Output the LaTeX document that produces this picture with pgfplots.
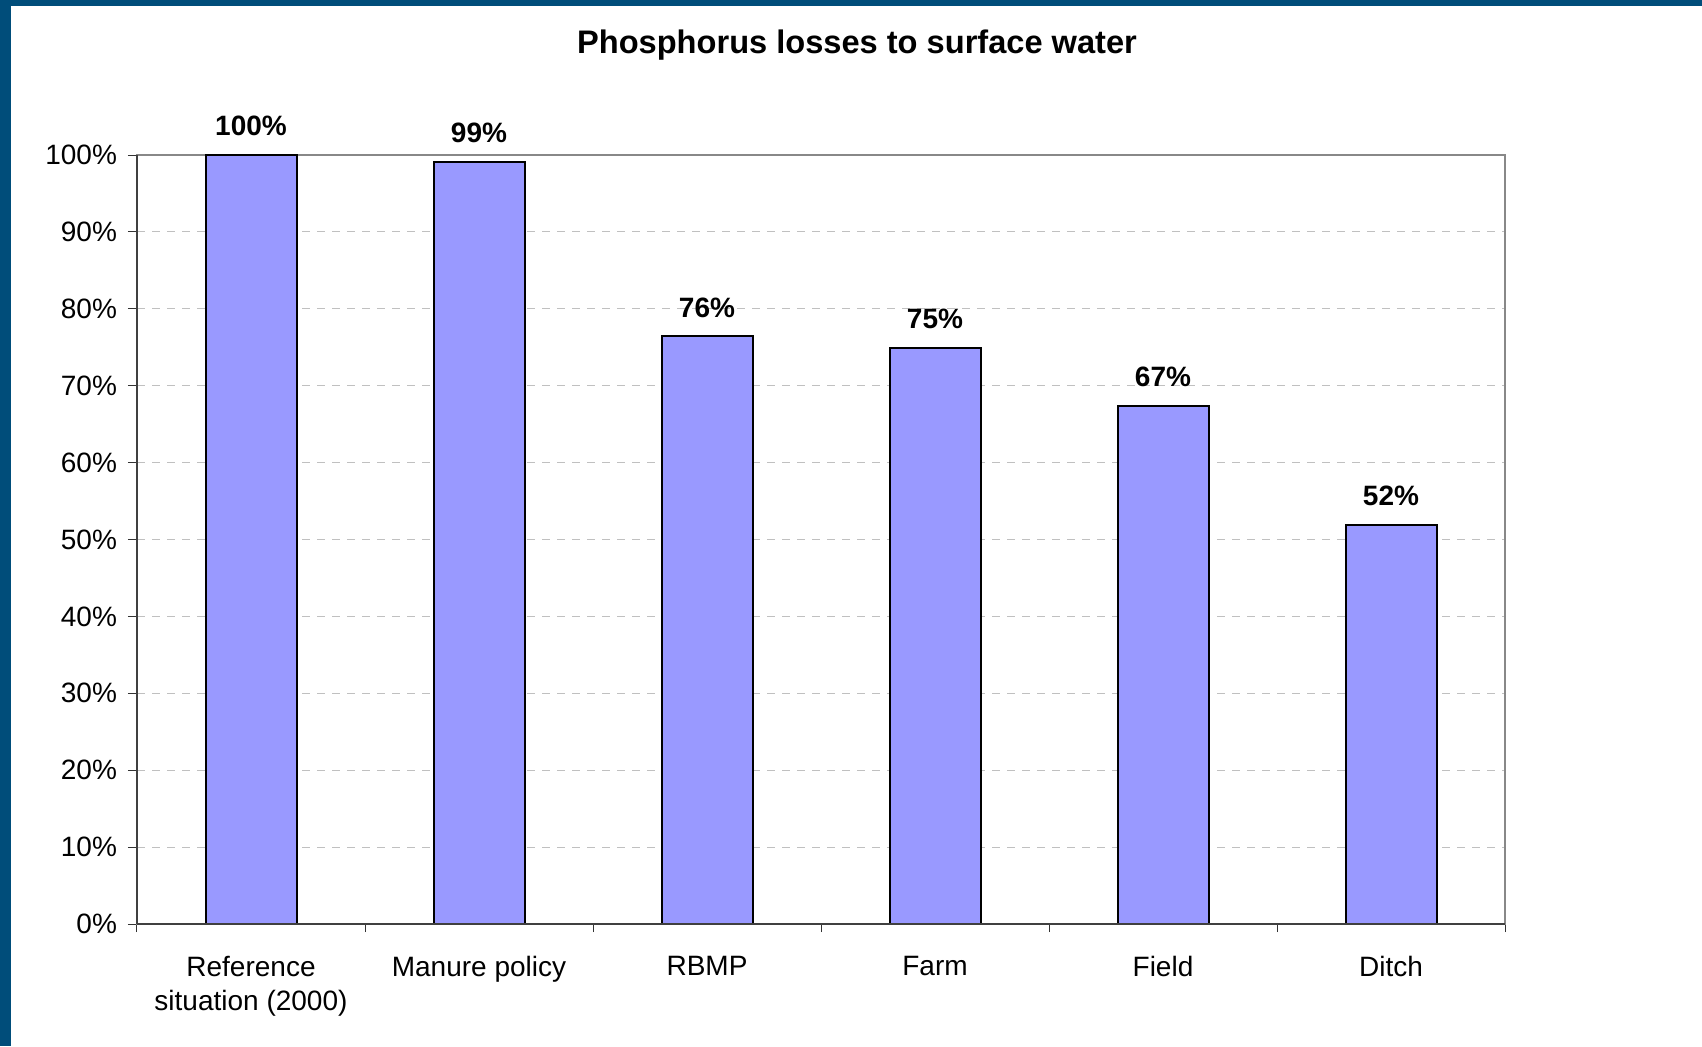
\documentclass[border=0pt]{standalone}
\usepackage{pgfplots}
\pgfplotsset{compat=1.18}
\usepackage{fontspec}
\setmainfont{Liberation Sans}
\definecolor{borderblue}{RGB}{0,77,122}
\definecolor{barblue}{RGB}{153,153,255}
\definecolor{framegray}{RGB}{136,136,136}
\definecolor{gridgray}{RGB}{192,192,192}
\begin{document}
\begin{tikzpicture}
\fill[borderblue] (0,0) rectangle (851pt,523pt);
\fill[white] (5.5pt,0) rectangle (851pt,520pt);
\node[anchor=base, font=\bfseries\fontsize{16.3}{19}\selectfont] at (428.5pt,496pt) {Phosphorus losses to surface water};
\begin{axis}[
  at={(68.5pt,61pt)}, anchor=south west,
  scale only axis, width=684pt, height=384.5pt,
  ybar, bar width=45.5pt,
  xmin=-0.5, xmax=5.5, ymin=0, ymax=100,
  /pgf/number format/assume math mode=true,
  xtick={0,1,2,3,4,5},
  xticklabels={{Reference\\situation (2000)},{Manure policy},{RBMP},{Farm},{Field},{Ditch}},
  xticklabel style={align=center, font=\fontsize{14}{17}\selectfont, yshift=-8pt},
  major x tick style={draw=none},
  minor xtick={-0.5,0.5,1.5,2.5,3.5,4.5,5.5},
  minor x tick style={black!80, line width=0.5pt},
  minor tick length=4pt,
  ytick={0,10,20,30,40,50,60,70,80,90,100},
  yticklabels={0\%,10\%,20\%,30\%,40\%,50\%,60\%,70\%,80\%,90\%,100\%},
  yticklabel style={font=\fontsize{14}{16}\selectfont, xshift=-2pt},
  major y tick style={black!80, line width=0.5pt},
  major tick length=4.5pt,
  tick align=outside,
  xtick pos=left, ytick pos=left,
  ymajorgrids,
  y grid style={gridgray, line width=0.5pt, dash pattern=on 4pt off 3.5pt},
  axis line style={framegray, line width=0.8pt},
  nodes near coords={\pgfmathprintnumber[fixed,precision=0]{\pgfplotspointmeta}\%},
  every node near coord/.append style={anchor=center, yshift=14.5pt, font=\bfseries\fontsize{14}{16}\selectfont, text=black},
  clip=false,
]
\addplot[fill=barblue, draw=black, line width=1pt] coordinates {
  (0,100) (1,99.1) (2,76.4) (3,74.9) (4,67.4) (5,51.9)
};
\draw[black!75, line width=0.8pt] (rel axis cs:0,0) -- (rel axis cs:0,1);
\draw[black!75, line width=0.8pt] (rel axis cs:0,0) -- (rel axis cs:1,0);
\end{axis}
\end{tikzpicture}
\end{document}
